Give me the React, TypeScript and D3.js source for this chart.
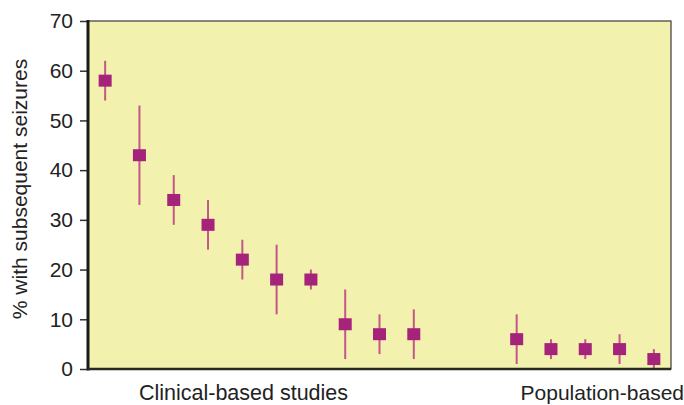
import * as d3 from "d3";
import React, { useEffect, useRef } from "react";

// study index (slot), clinical 0-9, population 12-16
const slots = [0, 1, 2, 3, 4, 5, 6, 7, 8, 9, 12, 13, 14, 15, 16];
const centers = [58, 43, 34, 29, 22, 18, 18, 9, 7, 7, 6, 4, 4, 4, 2];
const lows = [54, 33, 29, 24, 18, 11, 16, 2, 3, 2, 1, 2, 2, 1, 0];
const highs = [62, 53, 39, 34, 26, 25, 20, 16, 11, 12, 11, 6, 6, 7, 4];
const yTicks = [0, 10, 20, 30, 40, 50, 60, 70];
const groupLabels = ["Clinical-based studies", "Population-based"];

function App() {
  const svgRef = useRef<SVGSVGElement>(null);

  useEffect(() => {
    const svg = d3.select(svgRef.current);
    svg.selectAll("*").remove();

    const width = 684;
    const height = 405;
    const margin = { top: 21, left: 88, bottom: 36, right: 13 };
    const iwidth = width - margin.left - margin.right;
    const iheight = height - margin.top - margin.bottom;
    const font = "'Liberation Sans', Arial, sans-serif";

    const x = d3.scaleLinear().domain([-0.5, 16.5]).range([0, iwidth]);
    const y = d3.scaleLinear().domain([0, 70]).range([iheight, 0]);

    const graph = svg.append("g").attr("transform", `translate(${margin.left}, ${margin.top})`);

    graph.append("rect")
      .attr("width", iwidth)
      .attr("height", iheight)
      .attr("fill", "#F3F1AE")
      .attr("stroke", "#3a3a3a")
      .attr("stroke-width", 1.2);

    // error bars
    graph.selectAll("line.err").data(slots).enter().append("line")
      .attr("class", "err")
      .attr("x1", d => x(d))
      .attr("x2", d => x(d))
      .attr("y1", (d, i) => y(lows[i]))
      .attr("y2", (d, i) => y(highs[i]))
      .attr("stroke", "#C4568A")
      .attr("stroke-width", 2);

    const mw = 13;
    const mh = 12;
    graph.selectAll("rect.pt").data(slots).enter().append("rect")
      .attr("class", "pt")
      .attr("x", d => x(d) - mw / 2)
      .attr("y", (d, i) => y(centers[i]) - mh / 2)
      .attr("width", mw)
      .attr("height", mh)
      .attr("fill", "#A5237A");

    // y axis
    const yAxis = graph.append("g")
      .call(d3.axisLeft(y).tickValues(yTicks).tickSize(8).tickPadding(7));
    yAxis.select(".domain").remove();
    yAxis.selectAll(".tick line").attr("stroke", "#333").attr("stroke-width", 1.5);
    yAxis.selectAll(".tick text")
      .attr("font-family", font)
      .attr("font-size", 21)
      .attr("fill", "#222");

    graph.append("line")
      .attr("x1", 0).attr("x2", 0)
      .attr("y1", -1).attr("y2", iheight + 1.5)
      .attr("stroke", "#1a1a1a")
      .attr("stroke-width", 3);
    graph.append("line")
      .attr("x1", 0).attr("x2", iwidth)
      .attr("y1", iheight).attr("y2", iheight)
      .attr("stroke", "#2a2a20")
      .attr("stroke-width", 2.5);

    svg.append("text")
      .attr("transform", `translate(27, 189) rotate(-90)`)
      .attr("text-anchor", "middle")
      .attr("font-family", font)
      .attr("font-size", 21)
      .attr("fill", "#222")
      .text("% with subsequent seizures");

    svg.append("text")
      .attr("x", 243.5)
      .attr("y", 400)
      .attr("text-anchor", "middle")
      .attr("font-family", font)
      .attr("font-size", 21.5)
      .attr("fill", "#222")
      .text(groupLabels[0]);

    svg.append("text")
      .attr("x", 684)
      .attr("y", 400)
      .attr("text-anchor", "end")
      .attr("font-family", font)
      .attr("font-size", 21)
      .attr("fill", "#222")
      .text(groupLabels[1]);
  }, []);

  return (
    <svg ref={svgRef} width={684} height={405} style={{ position: "absolute", left: 0, top: 0 }} />
  );
}

export default App;
